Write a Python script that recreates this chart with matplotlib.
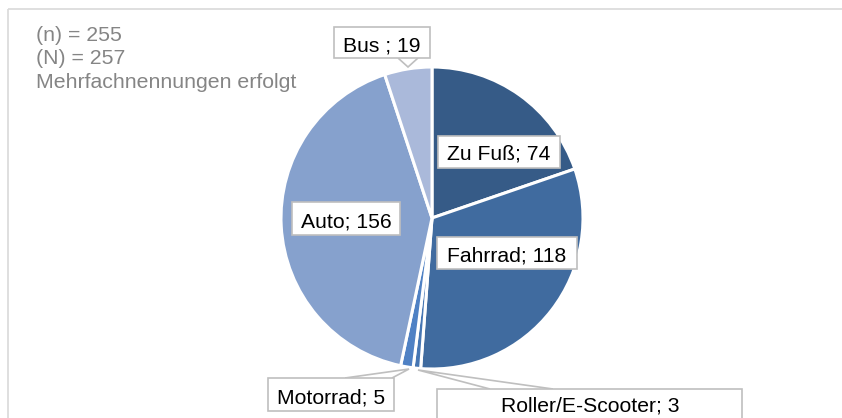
import matplotlib
matplotlib.use("Agg")
import matplotlib.pyplot as plt
from matplotlib.patches import Rectangle, Polygon

# ---- data ----
categories = ["Zu Fuß", "Fahrrad", "Roller/E-Scooter", "Motorrad", "Auto", "Bus"]
values = [74, 118, 3, 5, 156, 19]
label_texts = ["Zu Fuß; 74", "Fahrrad; 118", "Roller/E-Scooter; 3",
               "Motorrad; 5", "Auto; 156", "Bus ; 19"]
colors = ["#365B87", "#406B9F", "#4676B3", "#4F81C4", "#86A1CD", "#AAB9DA"]
note_lines = ["(n) = 255", "(N) = 257", "Mehrfachnennungen erfolgt"]

W, H = 842, 418
plt.rcParams['font.family'] = ['Liberation Sans', 'DejaVu Sans']

fig = plt.figure(figsize=(W / 100, H / 100), dpi=100)
ax = fig.add_axes([0, 0, 1, 1])
ax.set_xlim(0, W)
ax.set_ylim(0, H)
ax.set_aspect('equal')
ax.axis('off')

def Y(y):
    return H - y

# frame
ax.plot([8, W], [Y(9), Y(9)], color="#D9D9D9", lw=1.2, solid_capstyle='butt')
ax.plot([8, 8], [Y(9), Y(H + 5)], color="#D9D9D9", lw=1.2, solid_capstyle='butt')

# pie
cx, cy, r = 432, 218, 151
ax.pie(values, colors=colors, startangle=90, counterclock=False,
       center=(cx, Y(cy)), radius=r, frame=True,
       wedgeprops=dict(edgecolor="white", linewidth=2.2))
ax.set_xlim(0, W)
ax.set_ylim(0, H)
ax.axis('off')

# label boxes (x0, y0, x1, y1) in pixel coords, text center x and baseline
boxes = {
    "Zu Fuß": ((438, 136, 560, 168), 499, 160),
    "Fahrrad": ((437, 237, 577, 269), 507, 262),
    "Roller/E-Scooter": ((437, 389, 742, 432), 590, 412),
    "Motorrad": ((268, 378, 394, 411), 331, 403),
    "Auto": ((292, 202, 400, 235), 346, 227),
    "Bus": ((334, 27, 430, 58), 382, 52),
}
pointers = {
    "Bus": [(398, 58), (408, 67), (418, 58)],
    "Motorrad": [(345, 378), (409, 369), (392, 378)],
    "Roller/E-Scooter": [(490, 389), (418, 370), (553, 389)],
}
edge = "#BFBFBF"
for cat, txt in zip(categories, label_texts):
    (x0, y0, x1, y1), tx, ty = boxes[cat]
    if cat in pointers:
        pts = pointers[cat]
        poly = Polygon([(p[0], Y(p[1])) for p in pts], closed=False,
                       fc='white', ec=edge, lw=1.2, zorder=5)
        ax.add_patch(poly)
    ax.add_patch(Rectangle((x0, Y(y1)), x1 - x0, y1 - y0, fc='white',
                           ec=edge, lw=1.2, zorder=6))
    ax.text(tx, Y(ty), txt, ha='center', va='baseline', fontsize=15.2,
            color='black', zorder=7)

# note text
for i, line in enumerate(note_lines):
    ax.text(36, Y(41 + 23.5 * i), line, ha='left', va='baseline',
            fontsize=15.3, color='#858585')

fig.savefig("out.png", dpi=100)
